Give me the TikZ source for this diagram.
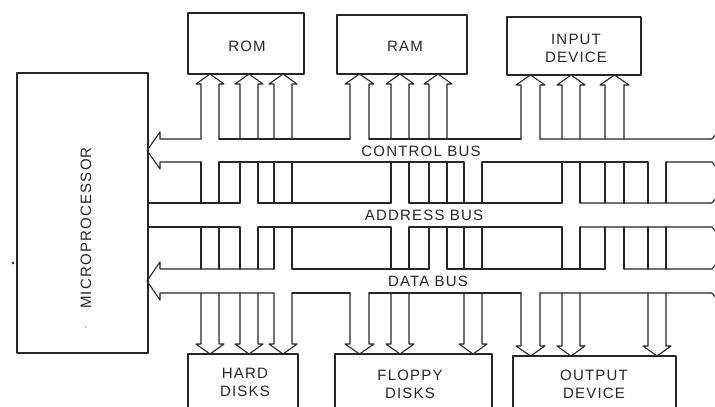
\documentclass[tikz,border=0pt]{standalone}
\usepackage{fontspec}
\setmainfont{Liberation Sans}[LetterSpace=8]
\begin{document}
\begin{tikzpicture}[x=1pt,y=-1pt,line width=1.1pt,line cap=round,line join=round,
  ink/.style={draw=black!85},
  lbl/.style={font=\fontsize{15}{18}\selectfont,inner sep=0pt,align=center,text=black!85},
  box/.style={draw=black!85,line width=1.1pt,inner sep=0pt,outer sep=0pt}]
\useasboundingbox (0,0) rectangle (715,407);
\clip (0,0) rectangle (715,407);
\fill[white] (0,0) rectangle (715,407);

% ---------- boxes ----------
\node[box,minimum width=131pt,minimum height=280pt] (mp) at (82.5,213) {};
\node[box,minimum width=116pt,minimum height=61pt] (rom) at (246,43.5) {};
\node[box,minimum width=130pt,minimum height=59pt] (ram) at (402,44.5) {};
\node[box,minimum width=134pt,minimum height=58pt] (inp) at (574,46) {};
\node[box,minimum width=110pt,minimum height=76pt] (hd) at (243,392) {};
\node[box,minimum width=157pt,minimum height=76pt] (fd) at (413.5,392) {};
\node[box,minimum width=163pt,minimum height=74pt] (out) at (594.5,393) {};

% ---------- labels ----------
\node[lbl,rotate=90] (mpt) at (86,228) {MICROPROCESSOR};
\node[lbl] (romt) at (247,46) {ROM};
\node[lbl] (ramt) at (405,46) {RAM};
\node[lbl] (inpt) at (576,48) {INPUT\\DEVICE};
\node[lbl] (hdt) at (245,382.5) {HARD\\DISKS};
\node[lbl] (fdt) at (410,384.5) {FLOPPY\\DISKS};
\node[lbl] (outt) at (594,384) {OUTPUT\\DEVICE};
\node[lbl] (cbt) at (421,151) {CONTROL BUS};
\node[lbl] (abt) at (424,215) {ADDRESS BUS};
\node[lbl] (dbt) at (428,281) {DATA BUS};

% ---------- control bus ----------
\draw[ink] (201,139) -- (160,139) -- (160,132) -- (147,150.5) -- (160,169) -- (160,162) -- (201,162);
\draw[ink] (219,139) -- (350,139);
\draw[ink] (369,139) -- (521,139);
\draw[ink] (540,139) -- (712,139) -- (715,135);
\draw[ink] (219,162) -- (464,162);
\draw[ink] (482,162) -- (648,162);
\draw[ink] (666,162) -- (712,162) -- (715,166);

% ---------- address bus ----------
\draw[ink] (148,203) -- (240,203);
\draw[ink] (258,203) -- (391,203);
\draw[ink] (409,203) -- (562,203);
\draw[ink] (580,203) -- (712,203) -- (715,199);
\draw[ink] (148,227) -- (240,227);
\draw[ink] (258,227) -- (391,227);
\draw[ink] (409,227) -- (562,227);
\draw[ink] (580,227) -- (712,227) -- (715,231);

% ---------- data bus ----------
\draw[ink] (274,269) -- (160,269) -- (160,262) -- (147,281) -- (160,300) -- (160,293) -- (274,293);
\draw[ink] (292,269) -- (429,269);
\draw[ink] (447,269) -- (605,269);
\draw[ink] (624,269) -- (712,269) -- (715,265);
\draw[ink] (292,293) -- (350,293);
\draw[ink] (369,293) -- (521,293);
\draw[ink] (540,293) -- (712,293) -- (715,297);

% ---------- upward arrows into top devices ----------
\foreach \l/\r/\t in {201/219/74,240/258/74,274/292/74,350/369/74,391/409/74,429/447/74,521/540/75,562/580/75,605/624/75}{
  \draw[ink] (\l,139) -- (\l,{\t+10}) -- ({\l-5},{\t+10}) -- ({(\l+\r)/2},\t) -- ({\r+5},{\t+10}) -- (\r,{\t+10}) -- (\r,139);
}

% ---------- column segments between the buses ----------
\foreach \l/\r in {201/219,240/258,274/292,391/409,429/447,464/482,562/580,605/624,648/666}{
  \draw[ink] (\l,162) -- (\l,203);
  \draw[ink] (\r,162) -- (\r,203);
  \draw[ink] (\l,227) -- (\l,269);
  \draw[ink] (\r,227) -- (\r,269);
}

% ---------- downward arrows into bottom devices ----------
\foreach \l/\r/\t in {201/219/354,240/258/354,274/292/354,350/369/354,391/409/354,464/482/354,521/540/356,562/580/356,648/666/356}{
  \draw[ink] (\l,293) -- (\l,{\t-10}) -- ({\l-5},{\t-10}) -- ({(\l+\r)/2},\t) -- ({\r+5},{\t-10}) -- (\r,{\t-10}) -- (\r,293);
}

% ---------- specks printed in the reference ----------
\fill[black!85] (13,263) circle (1.3);
\fill[black!40] (86,327) circle (0.8);
\end{tikzpicture}
\end{document}
